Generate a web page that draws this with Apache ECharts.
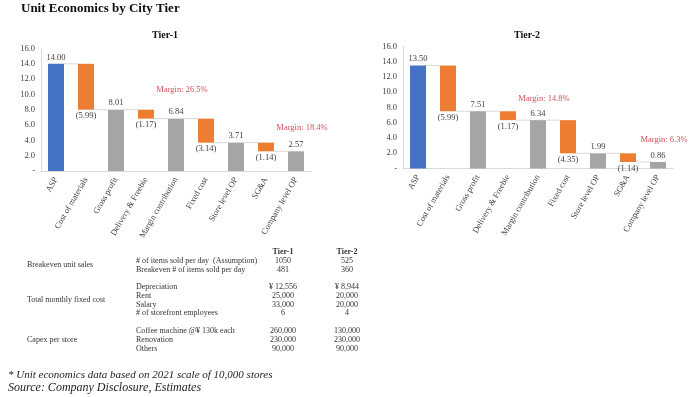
<!DOCTYPE html>
<html>
<head>
<meta charset="utf-8">
<script src="https://cdn.jsdelivr.net/npm/echarts@6/dist/echarts.min.js"></script>
<style>
html,body{margin:0;padding:0;background:#fff;}
#main{width:700px;height:397px;}
</style>
</head>
<body>
<div id="main"></div>
<script>
// ---------- DATA ----------
const categories = ['ASP','Cost of materials','Gross profit','Delivery & Freebie','Margin contribution','Fixed cost','Store level OP','SG&A','Company level OP'];
const barKinds = ['start','cost','total','cost','total','cost','total','cost','total'];
const tier1Values = [14.00,-5.99,8.01,-1.17,6.84,-3.14,3.71,-1.14,2.57];
const tier2Values = [13.50,-5.99,7.51,-1.17,6.34,-4.35,1.99,-1.14,0.86];
const yMin = 0, yMax = 16, yStep = 2;
const tier1Margins = [
  {cat:'Margin contribution', y:10.6, text:'Margin: 26.5%'},
  {cat:'Company level OP', y:5.7, text:'Margin: 18.4%'}
];
const tier2Margins = [
  {cat:'Margin contribution', y:9.1, text:'Margin: 14.8%'},
  {cat:'Company level OP', y:3.75, text:'Margin: 6.3%'}
];
const tableHeaders = ['Tier-1','Tier-2'];
const tableGroups = ['Breakeven unit sales','Total monthly fixed cost','Capex per store'];
const tableRowLabels = [
  ['# of items sold per day  (Assumption)','Breakeven # of items sold per day'],
  ['Depreciation','Rent','Salary','# of storefront employees'],
  ['Coffee machine @\u00a5 130k each','Renovation','Others']
];
const tableTier1 = [['1050','481'],['\u00a5 12,556','25,000','33,000','6'],['260,000','230,000','90,000']];
const tableTier2 = [['525','360'],['\u00a5 8,944','20,000','20,000','4'],['130,000','230,000','90,000']];
const footnotes = ['* Unit economics data based on 2021 scale of 10,000 stores','Source: Company Disclosure, Estimates'];

// ---------- BUILD ----------
const SERIF = '"Liberation Serif","Times New Roman",serif';
const BLUE = '#4472C4', ORANGE = '#ED7D31', GREY = '#A5A5A5', RED = '#C8202F', TXT = '#404040';

function waterfall(vals){
  let run = 0; const base=[], vis=[], levels=[];
  vals.forEach((v,i)=>{
    if(barKinds[i]==='cost'){
      const end = run + v;
      base.push(end); vis.push({value:-v, kind:'cost'});
      run = end;
    } else {
      base.push(0); vis.push({value:v, kind:barKinds[i]});
      run = v;
    }
    levels.push(run);
  });
  return {base, vis, levels};
}

function makeSeries(vals, idx, margins){
  const w = waterfall(vals);
  const barW = 16;
  return [
    {type:'bar', xAxisIndex:idx, yAxisIndex:idx, stack:'s'+idx, data:w.base, barWidth:barW,
     itemStyle:{color:'transparent'}, silent:true, emphasis:{disabled:true}},
    {type:'bar', xAxisIndex:idx, yAxisIndex:idx, stack:'s'+idx, barWidth:barW,
     data:w.vis.map(d=>({value:d.value,
       itemStyle:{color: d.kind==='start'?BLUE:(d.kind==='cost'?ORANGE:GREY)},
       label:{position: d.kind==='cost'?'bottom':'top', distance:2,
              formatter: d.kind==='cost'?('('+d.value.toFixed(2)+')'):d.value.toFixed(2)}})),
     label:{show:true, fontFamily:SERIF, fontSize:8.5, color:TXT}
    },
    {type:'scatter', xAxisIndex:idx, yAxisIndex:idx, silent:true, symbolSize:1,
     itemStyle:{color:'rgba(0,0,0,0)'},
     data: margins.map(m=>({value:[m.cat, m.y], name:m.text})),
     label:{show:true, position:'inside', fontFamily:SERIF, fontSize:8.5, color:RED, offset:[6,0],
            formatter:p=>p.name}},
    {type:'custom', xAxisIndex:idx, yAxisIndex:idx, silent:true,
     data: w.levels.slice(0,-1).map((l,i)=>[i,l]),
     renderItem:(params, api)=>{
       const i = api.value(0), l = api.value(1);
       const p1 = api.coord([i, l]), p2 = api.coord([i+1, l]);
       return {type:'line', shape:{x1:p1[0]+barW/2, y1:p1[1], x2:p2[0]-barW/2, y2:p2[1]},
               style:{stroke:'#D9D9D9', lineWidth:1}};
     }}
  ];
}

function xAxis(idx){
  return {type:'category', gridIndex:idx, data:categories,
    axisLine:{lineStyle:{color:'#D9D9D9'}}, axisTick:{show:false},
    axisLabel:{rotate:60, fontFamily:SERIF, fontSize:8.5, color:TXT, margin:7, interval:0}};
}
function yAxis(idx){
  return {type:'value', gridIndex:idx, min:yMin, max:yMax, interval:yStep,
    axisLine:{show:true, lineStyle:{color:'#D9D9D9'}}, axisTick:{show:false}, splitLine:{show:false},
    axisLabel:{fontFamily:SERIF, fontSize:8.5, color:TXT, margin:6,
      formatter:v=> v===0?'-':v.toFixed(1)}};
}

const graphics = [];
const fs = 8;
function txt(x,y,t,opt){
  graphics.push({type:'text', x:x, y:y, silent:true,
    style:Object.assign({text:t, fontFamily:SERIF, fontSize:fs, fill:'#333', textVerticalAlign:'middle'}, opt||{})});
}
const col1X = 136, t1X = 283, t2X = 347, grpX = 27;
txt(t1X, 252, tableHeaders[0], {fontWeight:'bold', textAlign:'center'});
txt(t2X, 252, tableHeaders[1], {fontWeight:'bold', textAlign:'center'});
const groupStarts = [261, 287, 331];
const rowH = 8.8;
tableRowLabels.forEach((rows,g)=>{
  const y0 = groupStarts[g];
  const mid = y0 + (rows.length-1)*rowH/2;
  txt(grpX, mid, tableGroups[g]);
  rows.forEach((r,k)=>{
    const y = y0 + k*rowH;
    txt(col1X, y, r);
    txt(t1X, y, tableTier1[g][k], {textAlign:'center'});
    txt(t2X, y, tableTier2[g][k], {textAlign:'center'});
  });
});
txt(8, 375, footnotes[0], {fontStyle:'italic', fontSize:11, fill:'#222'});
txt(8, 388, footnotes[1], {fontStyle:'italic', fontSize:12, fill:'#222'});

const chart = echarts.init(document.getElementById('main'), null, {renderer:'canvas'});
chart.setOption({
  animation:false,
  backgroundColor:'#fff',
  title:[
    {text:'Unit Economics by City Tier', left:21, top:2, padding:0, textStyle:{fontFamily:SERIF, fontSize:13, fontWeight:'bold', color:'#111'}},
    {text:'Tier-1', left:165, top:30, padding:0, textAlign:'center', textStyle:{fontFamily:SERIF, fontSize:10, fontWeight:'bold', color:'#111'}},
    {text:'Tier-2', left:527, top:30, padding:0, textAlign:'center', textStyle:{fontFamily:SERIF, fontSize:10, fontWeight:'bold', color:'#111'}}
  ],
  grid:[
    {left:41, top:48.5, width:270, height:122.5},
    {left:403, top:46.5, width:270, height:122}
  ],
  xAxis:[xAxis(0), xAxis(1)],
  yAxis:[yAxis(0), yAxis(1)],
  series:[...makeSeries(tier1Values,0,tier1Margins), ...makeSeries(tier2Values,1,tier2Margins)],
  graphic:graphics
});
</script>
</body>
</html>
